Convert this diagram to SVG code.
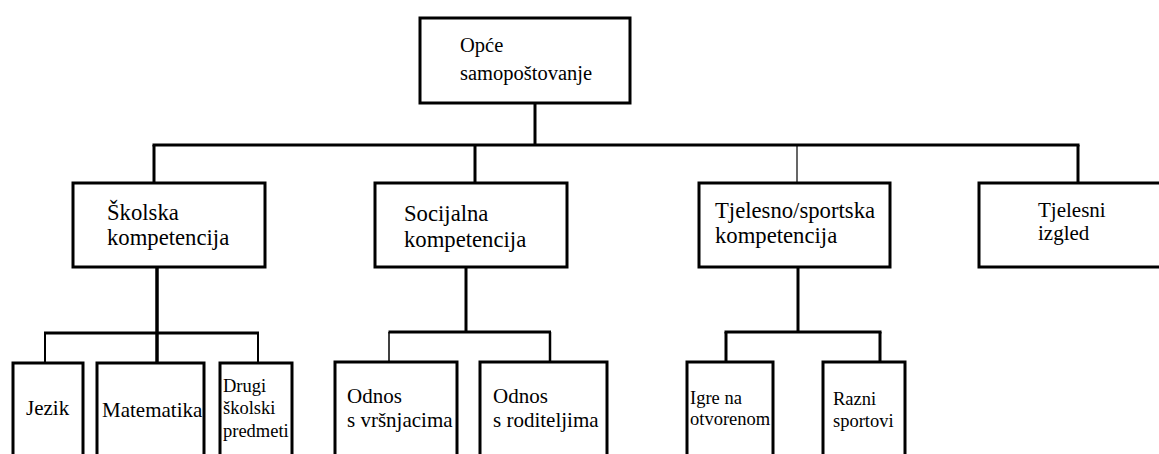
<svg xmlns="http://www.w3.org/2000/svg" width="1159" height="454" viewBox="0 0 1159 454" font-family="Liberation Serif, Tinos, Times New Roman, Times, Noto Serif, DejaVu Serif, FreeSerif, serif">
<style>
.box{fill:#fff;stroke:#000;stroke-width:3}
.ln{stroke:#000;stroke-width:3;fill:none}
text{fill:#000}
.t0{font-size:20.5px}
.t{font-size:21px}
.t2{font-size:22.7px}
.t3{font-size:18.5px}
</style>
<rect width="1159" height="454" fill="#fff"/>
<g id="connectors">
<line class="ln" x1="535" y1="103" x2="535" y2="145"/>
<line class="ln" x1="152.5" y1="145" x2="1079.5" y2="145"/>
<line class="ln" x1="154" y1="145" x2="154" y2="183"/>
<line class="ln" x1="475" y1="145" x2="475" y2="183"/>
<line class="ln" x1="797" y1="145" x2="797" y2="183" style="stroke-width:1.2"/>
<line class="ln" x1="1078" y1="145" x2="1078" y2="183"/>
<line class="ln" x1="157" y1="267" x2="157" y2="363" style="stroke-width:3.5"/>
<line class="ln" x1="44" y1="333" x2="259" y2="333"/>
<line class="ln" x1="45" y1="333" x2="45" y2="363" style="stroke-width:2"/>
<line class="ln" x1="258" y1="333" x2="258" y2="363" style="stroke-width:2"/>
<line class="ln" x1="466" y1="267" x2="466" y2="332"/>
<line class="ln" x1="388.5" y1="332" x2="551" y2="332"/>
<line class="ln" x1="389" y1="332" x2="389" y2="362" style="stroke-width:1.5"/>
<line class="ln" x1="550" y1="332" x2="550" y2="362" style="stroke-width:2.5"/>
<line class="ln" x1="798" y1="267" x2="798" y2="332"/>
<line class="ln" x1="724.5" y1="332" x2="881.5" y2="332"/>
<line class="ln" x1="726" y1="332" x2="726" y2="362"/>
<line class="ln" x1="880" y1="332" x2="880" y2="362"/>
</g>
<g id="n-opce">
<rect class="box" x="420" y="18" width="210" height="85"/>
<text class="t0" x="460" y="52">Opće</text>
<text class="t0" x="460" y="80">samopoštovanje</text>
</g>
<g id="n-skolska">
<rect class="box" x="73" y="183" width="192" height="84"/>
<text class="t2" x="107" y="220">Školska</text>
<text class="t2" x="107" y="245">kompetencija</text>
</g>
<g id="n-socijalna">
<rect class="box" x="375" y="183" width="192" height="84"/>
<text class="t2" x="404" y="221">Socijalna</text>
<text class="t2" x="404" y="247">kompetencija</text>
</g>
<g id="n-tjelesno">
<rect class="box" x="699" y="183" width="191" height="84"/>
<text class="t2" x="715" y="218">Tjelesno/sportska</text>
<text class="t2" x="715" y="243">kompetencija</text>
</g>
<g id="n-izgled">
<rect class="box" x="979" y="183" width="190" height="84"/>
<text class="t" x="1038" y="217">Tjelesni</text>
<text class="t" x="1038" y="240">izgled</text>
</g>
<g id="n-jezik">
<rect class="box" x="13" y="363" width="70" height="100"/>
<text class="t" x="26" y="415">Jezik</text>
</g>
<g id="n-matematika">
<rect class="box" x="97" y="363" width="107" height="100"/>
<text class="t" x="102" y="417">Matematika</text>
</g>
<g id="n-drugi">
<rect class="box" x="220" y="363" width="72" height="100"/>
<text class="t3" x="223" y="392">Drugi</text>
<text class="t3" x="223" y="414">školski</text>
<text class="t3" x="223" y="437">predmeti</text>
</g>
<g id="n-vrsnjaci">
<rect class="box" x="335" y="362" width="122" height="100"/>
<text class="t" x="347" y="403">Odnos</text>
<text class="t" x="347" y="427">s vršnjacima</text>
</g>
<g id="n-roditelji">
<rect class="box" x="480" y="362" width="127" height="100"/>
<text class="t" x="493" y="403">Odnos</text>
<text class="t" x="493" y="427">s roditeljima</text>
</g>
<g id="n-igre">
<rect class="box" x="687" y="362" width="86" height="100"/>
<text class="t3" x="690" y="404">Igre na</text>
<text class="t3" x="690" y="425">otvorenom</text>
</g>
<g id="n-sportovi">
<rect class="box" x="823" y="362" width="82" height="100"/>
<text class="t3" x="833" y="405">Razni</text>
<text class="t3" x="833" y="427">sportovi</text>
</g>
</svg>
